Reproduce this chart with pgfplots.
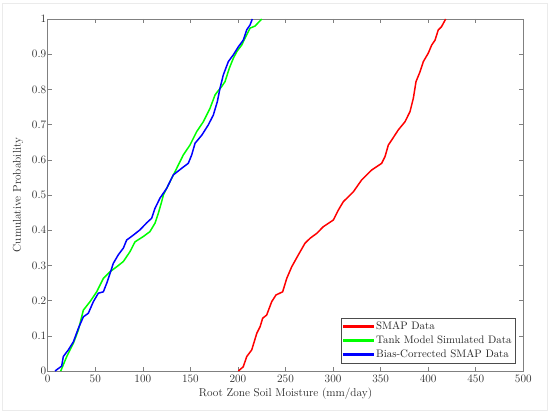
\documentclass[border=0pt]{standalone}
\usepackage{fontspec}
\usepackage{pgfplots}
\pgfplotsset{compat=1.18}
\definecolor{axgray}{RGB}{128,128,128}
\definecolor{txt}{RGB}{40,40,40}
\definecolor{cred}{RGB}{255,0,0}
\definecolor{cgreen}{RGB}{0,255,0}
\definecolor{cblue}{RGB}{0,0,255}
\newcommand{\fs}{\fontsize{11.4}{13}\selectfont}
\newcommand{\fsl}{\fontsize{10.9}{13}\selectfont}
\begin{document}
\begin{tikzpicture}[x=1bp,y=1bp]
\useasboundingbox (-47.7,-43) rectangle (502.3,371);
\draw[draw=black!8, line width=1bp] (-44.7,-39) rectangle (499.3,368);
\begin{axis}[
  at={(0,0)}, anchor=south west,
  scale only axis, width=475.6bp, height=352bp,
  xmin=0, xmax=500, ymin=0, ymax=1,
  xtick={0,50,...,500}, ytick={0,0.1,...,1},
  yticklabels={0,0.1,0.2,0.3,0.4,0.5,0.6,0.7,0.8,0.9,1},
  /pgf/number format/assume math mode=true,
  axis line style={axgray, line width=0.6bp},
  tick style={axgray, line width=0.6bp},
  major tick length=4bp,
  tick align=inside,
  tick label style={font=\fs, text=txt},
  xticklabel style={yshift=0bp},
  yticklabel style={xshift=2bp},
  label style={font=\fs, text=txt},
  xlabel={Root Zone Soil Moisture (mm/day)},
  ylabel={Cumulative Probability},
  xlabel style={yshift=1bp},
  ylabel style={yshift=2bp},
  legend style={at={(1,0)}, anchor=south east, xshift=-7.6bp, yshift=8bp,
    draw=black!70, font=\fsl, text=txt, row sep=1bp, inner xsep=2bp, inner ysep=1.5bp},
  legend cell align=left,
]
\addplot[draw=cred, line width=1.5bp,
  legend image code/.code={\fill[cred] (0bp,-0.8bp) rectangle (30bp,0.8bp);}] coordinates {
(200.4,0.0) (205.6,0.012) (209.2,0.041) (214.5,0.06) (219.8,0.107) (223.3,0.126)
(226,0.15) (230.2,0.159) (235.5,0.197) (240,0.216) (247,0.225) (251.3,0.263)
(256.5,0.296) (263.5,0.33) (270.5,0.363) (275.8,0.377) (282.8,0.391) (289.8,0.41)
(300.3,0.429) (305.5,0.457) (310.8,0.481) (321.3,0.509) (330.1,0.543) (340.6,0.571)
(351.1,0.59) (354.6,0.609) (358.1,0.642) (361.6,0.656) (368.6,0.685) (375.6,0.708)
(380.9,0.737) (384.4,0.775) (387.2,0.822) (391.4,0.85) (394.9,0.879) (400.1,0.903)
(403.7,0.926) (407.2,0.94) (410.6,0.969) (414,0.978) (418.4,1.0)
};
\addlegendentry{SMAP Data}
\addplot[draw=cgreen, line width=1.5bp,
  legend image code/.code={\fill[cgreen] (0bp,-0.8bp) rectangle (30bp,0.8bp);}] coordinates {
(13.7,0.0) (20,0.041) (27,0.079) (32.2,0.116) (37.5,0.173) (44.5,0.197)
(51.5,0.225) (58.5,0.263) (65.5,0.282) (72.5,0.296) (79.5,0.311) (86.5,0.339)
(91.8,0.367) (100.5,0.382) (107.5,0.396) (112.8,0.42) (116.3,0.448) (119.8,0.481)
(121.6,0.5) (128.6,0.538) (133.8,0.566) (142.6,0.614) (149.6,0.642) (156.6,0.68)
(163.6,0.708) (170.6,0.746) (175.9,0.784) (178.3,0.793) (182.9,0.808) (186.4,0.822)
(190.9,0.86) (195.1,0.888) (198.7,0.907) (203.9,0.926) (209.2,0.955) (212.7,0.974)
(218,0.98) (225,1.0)
};
\addlegendentry{Tank Model Simulated Data}
\addplot[draw=cblue, line width=1.5bp,
  legend image code/.code={\fill[cblue] (0bp,-0.8bp) rectangle (30bp,0.8bp);}] coordinates {
(7.7,0.0) (14.7,0.014) (16.4,0.041) (21.7,0.06) (27,0.083) (32.2,0.121)
(37.5,0.154) (42.7,0.164) (48,0.197) (53.2,0.221) (58.5,0.225) (62,0.249)
(65.5,0.277) (69,0.306) (74.2,0.33) (79.5,0.349) (83,0.372) (90,0.386)
(97,0.401) (104.1,0.421) (109.3,0.434) (112.8,0.462) (118,0.491) (125.1,0.519)
(132,0.557) (140.9,0.576) (147.8,0.59) (151.4,0.614) (154.9,0.647) (162,0.67)
(168.8,0.699) (174.1,0.727) (178.3,0.765) (181.1,0.803) (184.6,0.841) (189.9,0.879)
(195.1,0.898) (200.4,0.921) (205.6,0.94) (209.2,0.969) (212.7,0.983) (215.1,1.0)
};
\addlegendentry{Bias-Corrected SMAP Data}
\end{axis}
\end{tikzpicture}
\end{document}
